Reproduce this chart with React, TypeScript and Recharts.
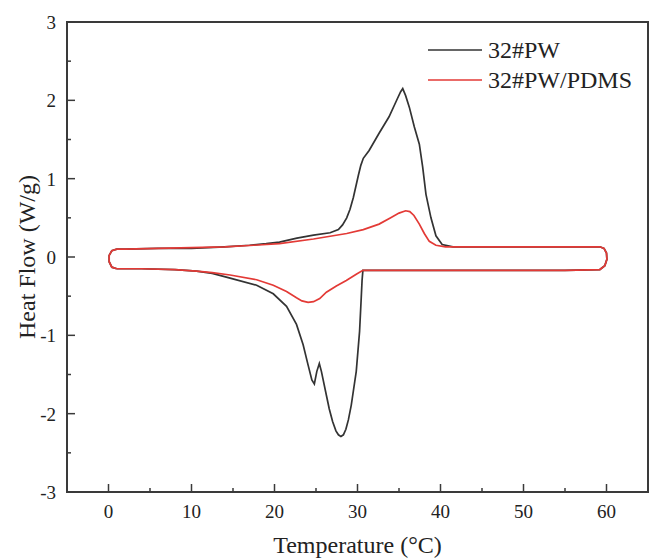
import React from 'react';
import { ComposedChart, Line, XAxis, YAxis, ReferenceArea } from 'recharts';

// 32#PW loop: left end -> heating branch -> right end -> cooling branch
const pwX = [
	1.0, 0.4, 0.08, 0.08, 0.4, 1.0,
	2, 6, 10, 14, 17, 19, 20.6, 22.7, 24.7, 26.7, 27.7, 28.2, 28.7, 29.1, 29.5, 30.1, 30.4, 30.7,
	31.4, 32.6, 33.8, 34.8, 35.2, 35.45, 35.8, 36.25, 36.85, 37.45, 37.85, 38.25, 38.85, 39.45,
	40.2, 41.5, 45, 50, 55, 59.2,
	59.7, 60.0, 60.05, 59.8, 59.2,
	55, 45, 35, 30.65, 30.55, 30.45, 30.25, 29.85, 29.25, 28.9, 28.6, 28.3, 28.0, 27.7, 27.4, 27.0, 26.6, 26.2,
	25.65, 25.4, 25.1, 24.8, 24.5, 24.05, 23.45, 22.65, 21.45, 19.85, 17.85, 14.65, 12.5, 10.6,
	8, 4, 1.0,
];
const pwY = [
	-0.15, -0.13, -0.06, 0.02, 0.08, 0.1,
	0.1, 0.11, 0.11, 0.13, 0.15, 0.17, 0.19, 0.24, 0.28, 0.31, 0.35, 0.41, 0.5, 0.61, 0.76, 1.04, 1.17, 1.26,
	1.36, 1.58, 1.79, 2.02, 2.11, 2.15, 2.06, 1.91, 1.66, 1.44, 1.15, 0.8, 0.5, 0.27,
	0.16, 0.13, 0.13, 0.13, 0.13, 0.13,
	0.11, 0.05, -0.03, -0.11, -0.16,
	-0.17, -0.17, -0.17, -0.17, -0.3, -0.52, -0.95, -1.46, -1.89, -2.08, -2.2, -2.27, -2.29, -2.27, -2.22, -2.1, -1.94, -1.74,
	-1.46, -1.36, -1.46, -1.62, -1.57, -1.38, -1.12, -0.86, -0.63, -0.47, -0.36, -0.27, -0.21, -0.18,
	-0.16, -0.15, -0.15,
];

// 32#PW/PDMS loop
const pdmsX = [
	1.0, 0.4, 0.08, 0.08, 0.4, 1.0,
	2, 6, 10, 14, 17.5, 20.6, 24.7, 28.7, 30.7, 32.6, 34.0, 35.0, 35.8, 36.3, 36.8, 37.45, 38.05,
	38.65, 39.45, 40.6, 45, 50, 55, 59.2,
	59.7, 60.0, 60.05, 59.8, 59.2,
	55, 45, 35, 30.65, 29.85, 28.65, 27.45, 26.25, 25.45, 24.7, 24.05, 23.3, 22.65, 21.45, 19.85,
	17.85, 14.65, 12.5, 10.6, 8, 4, 1.0,
];
const pdmsY = [
	-0.15, -0.13, -0.06, 0.02, 0.08, 0.1,
	0.1, 0.11, 0.12, 0.13, 0.15, 0.17, 0.23, 0.3, 0.35, 0.42, 0.5, 0.56, 0.59, 0.58, 0.53, 0.42, 0.3,
	0.2, 0.15, 0.13, 0.13, 0.13, 0.13, 0.13,
	0.11, 0.05, -0.03, -0.11, -0.16,
	-0.17, -0.17, -0.17, -0.17, -0.22, -0.3, -0.37, -0.45, -0.53, -0.57, -0.58, -0.56, -0.52, -0.44, -0.36,
	-0.29, -0.23, -0.2, -0.18, -0.16, -0.15, -0.15,
];

const xTicks = [0, 5, 10, 15, 20, 25, 30, 35, 40, 45, 50, 55, 60];
const yTicks = [-3, -2.5, -2, -1.5, -1, -0.5, 0, 0.5, 1, 1.5, 2, 2.5, 3];
const seriesNames = ['32#PW', '32#PW/PDMS'];

const pwData = pwX.map((x, i) => ({ x, y: pwY[i] }));
const pdmsData = pdmsX.map((x, i) => ({ x, y: pdmsY[i] }));

const FONT = '"Liberation Serif", "Times New Roman", serif';
const BLACK = '#333333';
const AXIS = '#3a3a3a';
const RED = '#e33a36';

const XTick = (props: any) => {
	const { x, y, payload } = props;
	const major = payload.value % 10 === 0;
	return (
		<g>
			<line x1={x} y1={y} x2={x} y2={y - (major ? 8 : 4)} stroke={AXIS} strokeWidth={1.5} />
			{major && (
				<text x={x} y={y + 26} textAnchor="middle" fill="#222" style={{ fontFamily: FONT, fontSize: 19 }}>
					{payload.value}
				</text>
			)}
		</g>
	);
};

const YTick = (props: any) => {
	const { x, y, payload } = props;
	const major = Number.isInteger(payload.value);
	return (
		<g>
			<line x1={x} y1={y} x2={x + (major ? 8 : 4)} y2={y} stroke={AXIS} strokeWidth={1.5} />
			{major && (
				<text x={x - 11} y={y + 7} textAnchor="end" fill="#222" style={{ fontFamily: FONT, fontSize: 19 }}>
					{payload.value}
				</text>
			)}
		</g>
	);
};

export default function App() {
	const colors = [BLACK, RED];
	return (
		<div style={{ position: 'absolute', left: 0, top: 0, width: 650, height: 558, background: '#fff' }}>
			<ComposedChart width={650} height={558} margin={{ top: 22, right: 2, left: 10, bottom: 20 }}>
				<XAxis
					type="number"
					dataKey="x"
					domain={[-5, 65]}
					ticks={xTicks}
					interval={0}
					allowDataOverflow
					tickSize={0}
					tickMargin={0}
					tickLine={false}
					tick={<XTick />}
					height={46}
					axisLine={{ stroke: AXIS, strokeWidth: 2 }}
					label={{ value: 'Temperature (°C)', position: 'insideBottom', offset: -15, style: { fontFamily: FONT, fontSize: 24, fill: '#222' } }}
				/>
				<YAxis
					type="number"
					dataKey="y"
					domain={[-3, 3]}
					ticks={yTicks}
					interval={0}
					allowDataOverflow
					tickSize={0}
					tickMargin={0}
					tickLine={false}
					tick={<YTick />}
					width={57}
					axisLine={{ stroke: AXIS, strokeWidth: 2 }}
					label={{ value: 'Heat Flow (W/g)', angle: -90, position: 'insideLeft', offset: 2, dx: 14, style: { fontFamily: FONT, fontSize: 24, fill: '#222', textAnchor: 'middle' } }}
				/>
				<ReferenceArea x1={-5} x2={65} y1={-3} y2={3} fill="none" stroke={AXIS} strokeWidth={2} fillOpacity={0} />
				<Line data={pwData} dataKey="y" type="linear" stroke={BLACK} strokeWidth={1.7} dot={false} isAnimationActive={false} name={seriesNames[0]} />
				<Line data={pdmsData} dataKey="y" type="linear" stroke={RED} strokeWidth={1.7} dot={false} isAnimationActive={false} name={seriesNames[1]} />
			</ComposedChart>
			<div style={{ position: 'absolute', left: 428, top: 35, fontFamily: FONT, fontSize: 24, color: '#222', lineHeight: '30px' }}>
				{seriesNames.map((name, i) => (
					<div key={name} style={{ display: 'flex', alignItems: 'center', height: 30 }}>
						<svg width={54} height={10}>
							<line x1={0} y1={5} x2={54} y2={5} stroke={colors[i]} strokeWidth={1.7} />
						</svg>
						<span style={{ marginLeft: 6 }}>{name}</span>
					</div>
				))}
			</div>
		</div>
	);
}
